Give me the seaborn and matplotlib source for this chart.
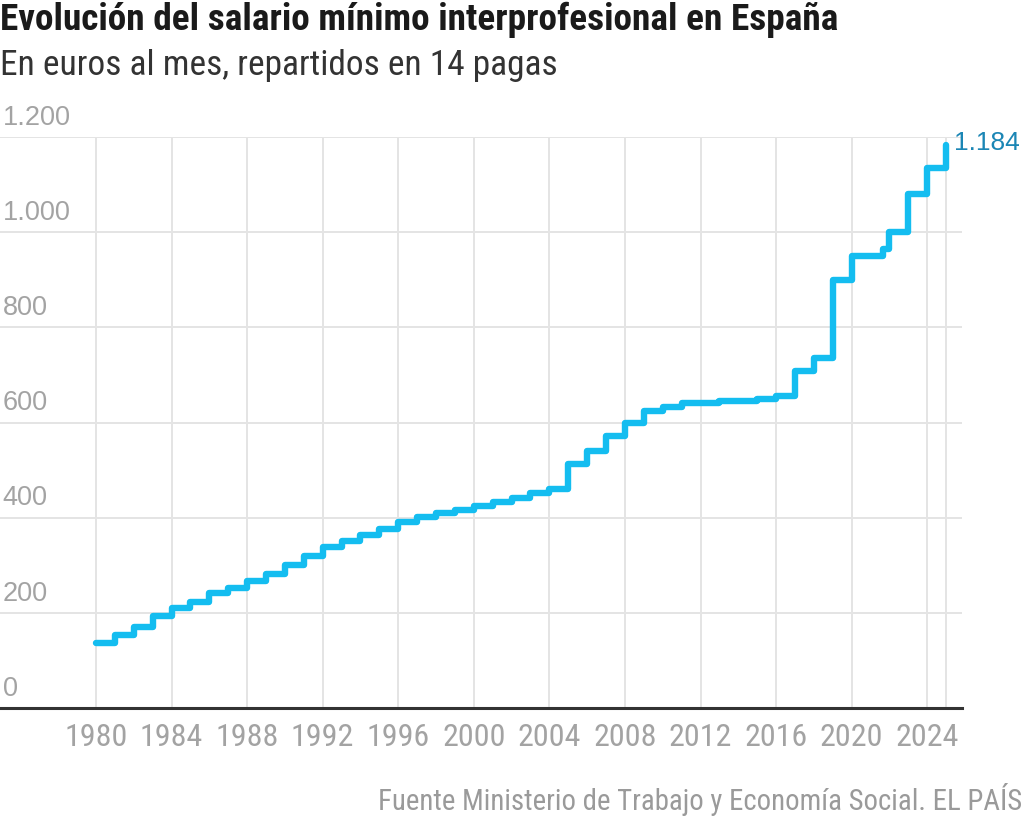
import matplotlib
matplotlib.use("Agg")
import matplotlib.pyplot as plt
import seaborn as sns
import pandas as pd
from matplotlib import font_manager
from matplotlib.font_manager import FontProperties

# ---- data ----
years = [1980, 1981, 1982, 1983, 1984, 1985, 1986, 1987, 1988, 1989,
         1990, 1991, 1992, 1993, 1994, 1995, 1996, 1997, 1998, 1999,
         2000, 2001, 2002, 2003, 2004, 2005, 2006, 2007, 2008, 2009,
         2010, 2011, 2012, 2013, 2014, 2015, 2016, 2017, 2018, 2019,
         2020, 2021, 2021.667, 2022, 2023, 2024, 2025]
salario = [136.7, 154.0, 170.2, 193.3, 209.5, 223.4, 241.2, 253.1, 267.4, 280.6,
           300.6, 320.0, 338.3, 351.8, 364.0, 376.8, 390.2, 400.5, 408.9, 416.3,
           424.8, 433.5, 442.2, 451.2, 460.5, 513.0, 540.9, 570.6, 600.0, 624.0,
           633.3, 641.4, 641.4, 645.3, 645.3, 648.6, 655.2, 707.6, 735.9, 900.0,
           950.0, 950.0, 965.0, 1000.0, 1080.0, 1134.0, 1184.0]
x_ticks = list(range(1980, 2025, 4))
y_ticks = [0, 200, 400, 600, 800, 1000, 1200]
y_tick_labels = ["0", "200", "400", "600", "800", "1.000", "1.200"]

title = "Evolución del salario mínimo interprofesional en España"
subtitle = "En euros al mes, repartidos en 14 pagas"
source = "Fuente Ministerio de Trabajo y Economía Social. EL PAÍS"

df = pd.DataFrame({"year": years, "value": salario})

sns.set_theme(style="white")
plt.rcParams["font.family"] = ["Liberation Sans", "DejaVu Sans"]


def find_narrow(bold):
    """Pick a condensed/narrow font file if one is installed."""
    cands = []
    for f in font_manager.fontManager.ttflist:
        name = f.name
        stretch = str(f.stretch)
        fn = f.fname.lower()
        is_narrow = ("narrow" in name.lower() or "condensed" in name.lower()
                     or stretch in ("condensed", "semi-condensed", "extra-condensed")
                     or "condensed" in fn or "narrow" in fn)
        if not is_narrow or "extra" in fn or "ultra" in fn or "semicondensed" in fn.replace("-", ""):
            continue
        w = f.weight if isinstance(f.weight, int) else (700 if "bold" in str(f.weight) else 400)
        if "italic" in fn or f.style != "normal":
            continue
        if bold and w < 600:
            continue
        if not bold and w != 400:
            continue
        pri = 9
        for i, key in enumerate(["liberation", "roboto", "dejavu", "noto", "opensans", "open sans"]):
            if key in fn or key in name.lower():
                pri = i
                break
        cands.append((pri, f.fname))
    if cands:
        cands.sort()
        return FontProperties(fname=cands[0][1])
    fp = FontProperties(family=["Roboto", "DejaVu Sans"])
    if bold:
        fp.set_weight("bold")
    return fp


fp_reg = find_narrow(False)
fp_bold = find_narrow(True)

LINE = "#14bdf0"
GRID = "#e4e4e4"
TICK = "#a3a3a3"

fig = plt.figure(figsize=(10.24, 8.19), dpi=100)
ax = fig.add_axes([0.0, 111 / 819, 962 / 1024, (708 - 137) / 819])

sns.lineplot(data=df, x="year", y="value", ax=ax, color=LINE, linewidth=4.6,
             drawstyle="steps-post", estimator=None, sort=True, zorder=5)

ax.set_xlim(1974.92, 2025.84)
ax.set_ylim(0, 1200)
ax.set_xticks(x_ticks)
ax.set_yticks(y_ticks)
ax.set_yticklabels([])
ax.tick_params(axis="x", length=0, pad=11)
ax.tick_params(axis="y", length=0)
ax.grid(True, color=GRID, linewidth=1.4)
ax.axvline(years[-1], color=GRID, linewidth=1.4, zorder=0)
ax.set_xlabel("")
ax.set_ylabel("")
for s in ["top", "right", "left"]:
    ax.spines[s].set_visible(False)
ax.spines["bottom"].set_color("#333333")
ax.spines["bottom"].set_linewidth(2.2)
ax.spines["bottom"].set_zorder(6)

for v, lab in zip(y_ticks, y_tick_labels):
    ax.annotate(lab, xy=(0, v), xycoords=("axes fraction", "data"),
                xytext=(2, 4.5), textcoords="offset points",
                ha="left", va="bottom", fontsize=19.5, color=TICK)

ax.annotate("1.184", xy=(years[-1], salario[-1]), xytext=(6, 1),
            textcoords="offset points", ha="left", va="center",
            fontsize=19, color="#1b86b5", annotation_clip=False)

renderer = fig.canvas.get_renderer()


def fit(text_obj, target_px, base):
    text_obj.set_fontsize(base)
    w = text_obj.get_window_extent(renderer).width
    if w > 0:
        text_obj.set_fontsize(base * target_px / w)


t1 = fig.text(0.0, 1 - 30 / 819, title, fontproperties=fp_bold.copy(),
              color="#1a1a1a", va="baseline", ha="left")
fit(t1, 838, 22)
t2 = fig.text(0.0, 1 - 75 / 819, subtitle, fontproperties=fp_reg.copy(),
              color="#333333", va="baseline", ha="left")
fit(t2, 557, 21)
t3 = fig.text(1 - 2 / 1024, 1 - 810 / 819, source, fontproperties=fp_reg.copy(),
              color="#9a9a9a", va="baseline", ha="right")
fit(t3, 642, 17)

# x tick labels sized so that "1980" is ~63 px wide
probe = fig.text(0, 0, "1980", fontproperties=fp_reg.copy())
fit(probe, 63, 20)
tick_size = probe.get_fontsize()
probe.remove()
ax.set_xticklabels([str(t) for t in x_ticks])
for lab in ax.get_xticklabels():
    fp = fp_reg.copy()
    fp.set_size(tick_size)
    lab.set_fontproperties(fp)
    lab.set_color(TICK)

fig.savefig("out.png", dpi=100)
